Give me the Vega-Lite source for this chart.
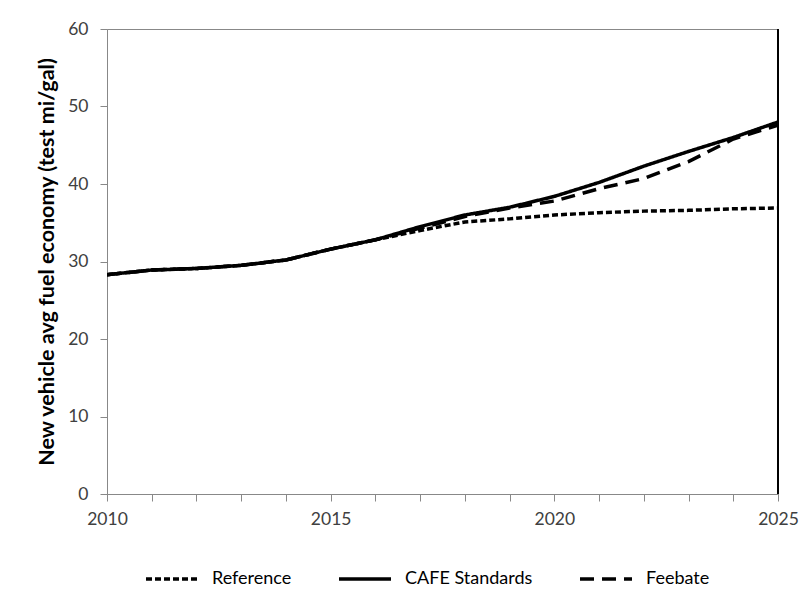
{
  "$schema": "https://vega.github.io/schema/vega-lite/v6.json",
  "width": 671,
  "height": 465,
  "autosize": {"type": "none"},
  "padding": {"left": 107, "top": 29, "right": 28, "bottom": 122},
  "background": "white",
  "config": {
    "view": {"stroke": "#888888", "strokeWidth": 1},
    "font": "Lato",
    "axis": {"grid": false, "domainColor": "#888888", "tickColor": "#888888", "labelColor": "#404040", "labelFont": "Lato", "labelFontSize": 17.5}
  },
  "data": {
    "values": [
      {"year": 2010, "series": "Reference", "mpg": 28.3},
      {"year": 2011, "series": "Reference", "mpg": 28.9},
      {"year": 2012, "series": "Reference", "mpg": 29.1},
      {"year": 2013, "series": "Reference", "mpg": 29.5},
      {"year": 2014, "series": "Reference", "mpg": 30.2},
      {"year": 2015, "series": "Reference", "mpg": 31.6},
      {"year": 2016, "series": "Reference", "mpg": 32.8},
      {"year": 2017, "series": "Reference", "mpg": 34.0},
      {"year": 2018, "series": "Reference", "mpg": 35.1},
      {"year": 2019, "series": "Reference", "mpg": 35.5},
      {"year": 2020, "series": "Reference", "mpg": 36.0},
      {"year": 2021, "series": "Reference", "mpg": 36.3},
      {"year": 2022, "series": "Reference", "mpg": 36.5},
      {"year": 2023, "series": "Reference", "mpg": 36.6},
      {"year": 2024, "series": "Reference", "mpg": 36.8},
      {"year": 2025, "series": "Reference", "mpg": 36.9},
      {"year": 2010, "series": "CAFE Standards", "mpg": 28.3},
      {"year": 2011, "series": "CAFE Standards", "mpg": 28.9},
      {"year": 2012, "series": "CAFE Standards", "mpg": 29.1},
      {"year": 2013, "series": "CAFE Standards", "mpg": 29.5},
      {"year": 2014, "series": "CAFE Standards", "mpg": 30.2},
      {"year": 2015, "series": "CAFE Standards", "mpg": 31.6},
      {"year": 2016, "series": "CAFE Standards", "mpg": 32.8},
      {"year": 2017, "series": "CAFE Standards", "mpg": 34.5},
      {"year": 2018, "series": "CAFE Standards", "mpg": 36.0},
      {"year": 2019, "series": "CAFE Standards", "mpg": 37.0},
      {"year": 2020, "series": "CAFE Standards", "mpg": 38.4},
      {"year": 2021, "series": "CAFE Standards", "mpg": 40.2},
      {"year": 2022, "series": "CAFE Standards", "mpg": 42.3},
      {"year": 2023, "series": "CAFE Standards", "mpg": 44.2},
      {"year": 2024, "series": "CAFE Standards", "mpg": 46.0},
      {"year": 2025, "series": "CAFE Standards", "mpg": 48.0},
      {"year": 2010, "series": "Feebate", "mpg": 28.3},
      {"year": 2011, "series": "Feebate", "mpg": 28.9},
      {"year": 2012, "series": "Feebate", "mpg": 29.1},
      {"year": 2013, "series": "Feebate", "mpg": 29.5},
      {"year": 2014, "series": "Feebate", "mpg": 30.2},
      {"year": 2015, "series": "Feebate", "mpg": 31.6},
      {"year": 2016, "series": "Feebate", "mpg": 32.8},
      {"year": 2017, "series": "Feebate", "mpg": 34.3},
      {"year": 2018, "series": "Feebate", "mpg": 35.8},
      {"year": 2019, "series": "Feebate", "mpg": 36.9},
      {"year": 2020, "series": "Feebate", "mpg": 37.8},
      {"year": 2021, "series": "Feebate", "mpg": 39.4},
      {"year": 2022, "series": "Feebate", "mpg": 40.7},
      {"year": 2023, "series": "Feebate", "mpg": 42.9},
      {"year": 2024, "series": "Feebate", "mpg": 45.8},
      {"year": 2025, "series": "Feebate", "mpg": 47.6}
    ]
  },
  "layer": [
    {
      "mark": {"type": "line", "strokeWidth": 3.5, "color": "black", "clip": true},
      "encoding": {
        "x": {
          "field": "year", "type": "quantitative",
          "scale": {"domain": [2010, 2025], "nice": false, "zero": false},
          "axis": {
            "title": null,
            "values": [2010, 2011, 2012, 2013, 2014, 2015, 2016, 2017, 2018, 2019, 2020, 2021, 2022, 2023, 2024, 2025],
            "format": "d",
            "labelExpr": "datum.value % 5 === 0 ? datum.label : ''",
            "labelAlign": "center",
            "labelFlush": false,
            "tickSize": 7,
            "labelPadding": 9,
            "labelOverlap": false
          }
        },
        "y": {
          "field": "mpg", "type": "quantitative",
          "scale": {"domain": [0, 60], "nice": false},
          "axis": {
            "title": "New vehicle avg fuel economy (test mi/gal)",
            "titleFont": "Lato",
            "titleFontSize": 21.5,
            "titleFontWeight": "bold",
            "titleColor": "black",
            "titlePadding": 9,
            "values": [0, 10, 20, 30, 40, 50, 60],
            "tickSize": 7,
            "labelPadding": 12
          }
        },
        "strokeDash": {
          "field": "series", "type": "nominal",
          "scale": {"domain": ["Reference", "CAFE Standards", "Feebate"], "range": [[6, 3], [1, 0], [14, 8]]},
          "legend": {
            "title": null,
            "orient": "none",
            "legendX": 37,
            "legendY": 522,
            "direction": "horizontal",
            "symbolType": "stroke",
            "symbolSize": 2704,
            "symbolStrokeWidth": 3.5,
            "symbolStrokeColor": "black",
            "labelFont": "Lato",
            "labelFontSize": 18,
            "labelColor": "black",
            "labelOffset": 12,
            "columnPadding": 40,
            "symbolOffset": 0
          }
        }
      }
    },
    {
      "mark": {"type": "rule", "color": "black", "strokeWidth": 1.5},
      "encoding": {"x": {"datum": 2025, "type": "quantitative"}}
    }
  ]
}
